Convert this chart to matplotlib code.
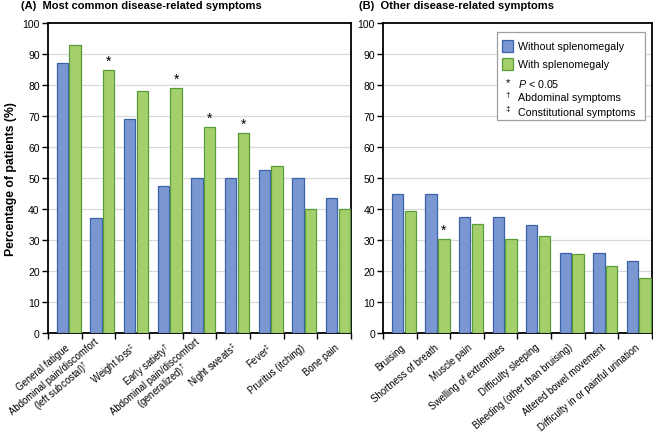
import numpy as np
import matplotlib
matplotlib.use("Agg")
import matplotlib.pyplot as plt
from matplotlib.patches import Rectangle

plt.rcParams['font.family'] = ['Liberation Sans', 'DejaVu Sans']
plt.rcParams['mathtext.fontset'] = 'custom'
plt.rcParams['mathtext.rm'] = 'Liberation Sans'
plt.rcParams['mathtext.it'] = 'Liberation Sans:italic'
plt.rcParams['mathtext.bf'] = 'Liberation Sans:bold'

# --- DATA ---
labels_a = [
    "General fatigue",
    "Abdominal pain/discomfort\n(left subcostal)$^{\u2020}$",
    "Weight loss$^{\u2021}$",
    "Early satiety$^{\u2020}$",
    "Abdominal pain/discomfort\n(generalized)$^{\u2020}$",
    "Night sweats$^{\u2021}$",
    "Fever$^{\u2021}$",
    "Pruritus (itching)",
    "Bone pain",
]
without_a = [87, 37.2, 69, 47.4, 50, 50, 52.6, 50, 43.5]
with_a = [92.8, 85, 78, 79, 66.6, 64.5, 53.9, 40, 40]
sig_a = [False, True, False, True, True, True, False, False, False]

labels_b = [
    "Bruising",
    "Shortness of breath",
    "Muscle pain",
    "Swelling of extremities",
    "Difficulty sleeping",
    "Bleeding (other than bruising)",
    "Altered bowel movement",
    "Difficulty in or painful urination",
]
without_b = [44.8, 44.8, 37.3, 37.3, 34.7, 25.8, 25.8, 23.2]
with_b = [39.2, 30.4, 35.3, 30.4, 31.4, 25.5, 21.6, 17.6]
sig_b = [False, True, False, False, False, False, False, False]

BLUE, BLUE_EDGE = '#7b97d1', '#3a62aa'
GREEN, GREEN_EDGE = '#a4d06c', '#5a9c3c'
BAR_W = 0.34


def draw_panel(ax, labels, without, with_, sig, title):
    x = np.arange(len(labels))
    ax.bar(x - 0.075, without, BAR_W, color=BLUE, edgecolor=BLUE_EDGE, linewidth=0.9, zorder=3)
    ax.bar(x + 0.305, with_, BAR_W, color=GREEN, edgecolor=GREEN_EDGE, linewidth=0.9, zorder=3)
    for xi, v, s in zip(x, with_, sig):
        if s:
            ax.text(xi + 0.305, v + 0.6, "*", ha='center', va='bottom', fontsize=10)

    ax.set_xlim(-0.5, len(labels) - 0.5)
    ax.set_ylim(0, 100)
    ax.set_yticks(np.arange(0, 101, 10))
    ax.tick_params(axis='y', labelsize=7.5, length=4, width=1, direction='out', pad=2)
    for yv in range(10, 100, 10):
        ax.axhline(yv, color='#d9d9d9', linewidth=0.9, zorder=1)

    # labels under bars, ticks on category boundaries
    ax.set_xticks(x + 0.1)
    ax.set_xticklabels(labels, rotation=40, ha='right', va='center', rotation_mode='anchor',
                       fontsize=6.9, multialignment='center', linespacing=0.95)
    ax.tick_params(axis='x', which='major', length=0, pad=9)
    ax.set_xticks(np.arange(-0.5, len(labels), 1.0), minor=True)
    ax.tick_params(axis='x', which='minor', length=4, width=1, direction='out')

    for sp in ax.spines.values():
        sp.set_linewidth(1.3)
        sp.set_color('black')
    ax.set_title(title, loc='left', fontsize=8.0, fontweight='bold', x=-0.09, y=1.02)


fig = plt.figure(figsize=(6.53, 4.39), dpi=100)
ax_a = fig.add_axes([48 / 653, 105 / 439, 303 / 653, 310 / 439])
ax_b = fig.add_axes([383.3 / 653, 105 / 439, 268.4 / 653, 310 / 439])

draw_panel(ax_a, labels_a, without_a, with_a, sig_a, "(A)  Most common disease-related symptoms")
draw_panel(ax_b, labels_b, without_b, with_b, sig_b, "(B)  Other disease-related symptoms")
ax_a.set_ylabel("Percentage of patients (%)", fontsize=8.8, fontweight='bold', labelpad=4)

# legend box drawn by hand (mixes patches and footnote symbols)
ax_b.add_patch(Rectangle((0.4225, 0.686), 0.5525, 0.285, transform=ax_b.transAxes,
                         facecolor='white', edgecolor='#a0a0a0', linewidth=0.9, zorder=5))
ax_b.add_patch(Rectangle((0.441, 0.908), 0.041, 0.037, transform=ax_b.transAxes,
                         facecolor=BLUE, edgecolor=BLUE_EDGE, linewidth=0.9, zorder=6))
ax_b.add_patch(Rectangle((0.441, 0.849), 0.041, 0.037, transform=ax_b.transAxes,
                         facecolor=GREEN, edgecolor=GREEN_EDGE, linewidth=0.9, zorder=6))
leg_txt = [("", "Without splenomegaly", 0.926),
           ("", "With splenomegaly", 0.867),
           ("*", "$P$ < 0.05", 0.806),
           ("\u2020", "Abdominal symptoms", 0.76),
           ("\u2021", "Constitutional symptoms", 0.714)]
for sym, txt, yy in leg_txt:
    if sym:
        ax_b.text(0.465, yy + (0.004 if sym == "*" else 0.01), sym, transform=ax_b.transAxes,
                  ha='center', va='center', fontsize=8 if sym == "*" else 6, zorder=7)
    ax_b.text(0.5, yy, txt, transform=ax_b.transAxes, ha='left', va='center',
              fontsize=7.7, zorder=7)

fig.savefig("out.png", dpi=100)
